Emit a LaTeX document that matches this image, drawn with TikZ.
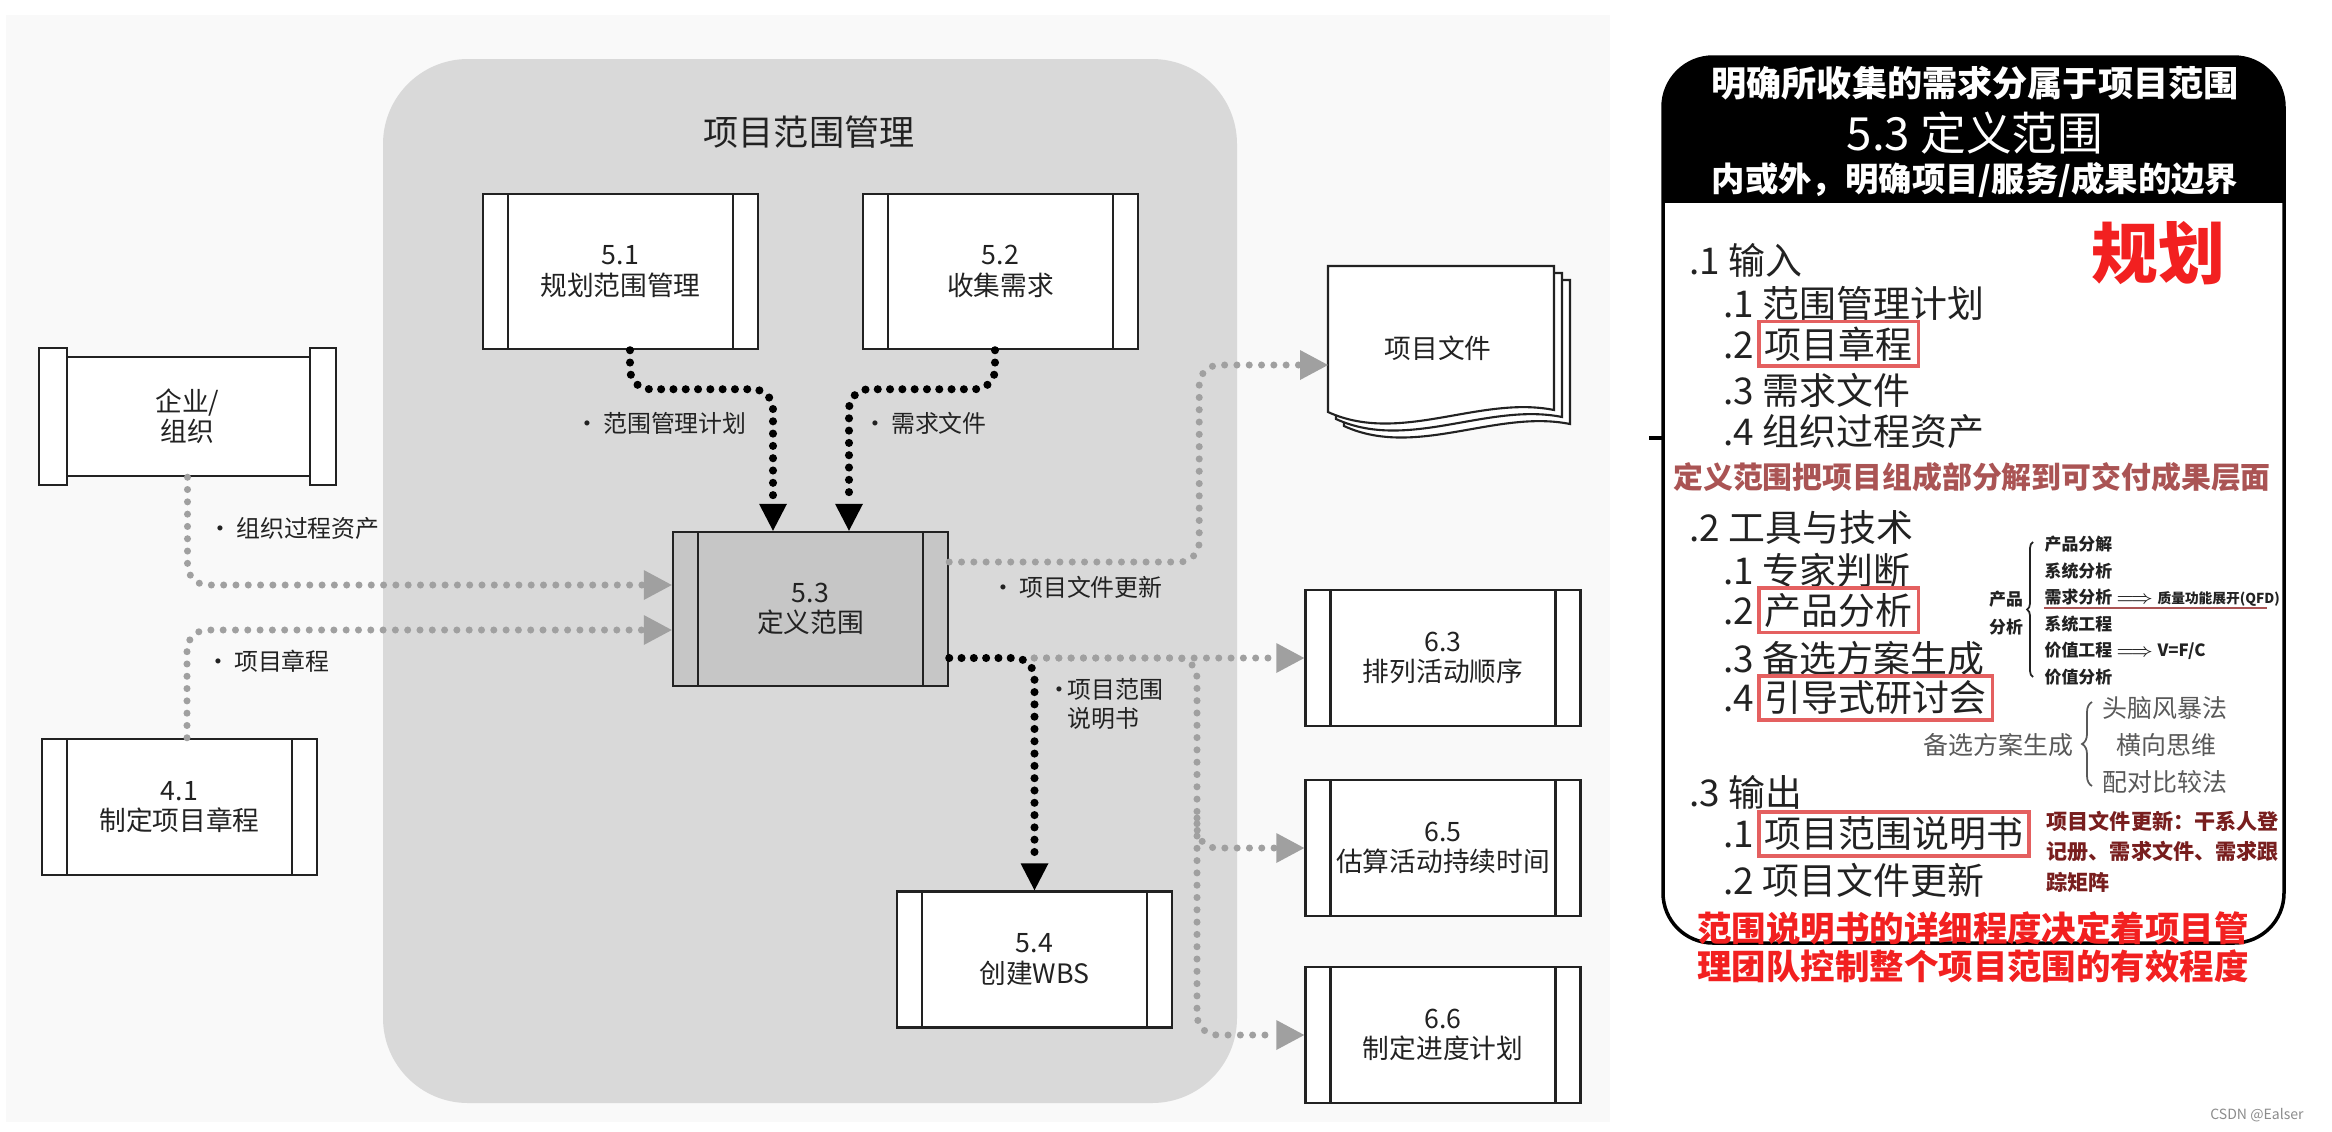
\documentclass[tikz,border=0pt]{standalone}
\usepackage{fontspec}
\setmainfont{Noto Sans CJK SC}
\usetikzlibrary{arrows.meta,positioning,decorations.pathreplacing}
\definecolor{panelbg}{RGB}{249,249,249}
\definecolor{scopegray}{RGB}{217,217,217}
\definecolor{procgray}{RGB}{198,198,198}
\definecolor{dotgray}{RGB}{160,160,160}
\definecolor{inkgray}{RGB}{34,34,34}
\definecolor{framered}{RGB}{228,96,96}
\definecolor{notered}{RGB}{170,84,84}
\definecolor{alertred}{RGB}{242,32,32}
\definecolor{darkred}{RGB}{120,30,30}
\newcommand\procfont{\fontsize{7.6}{8.6}\selectfont}
\newcommand\flowfont{\fontsize{6.8}{8}\selectfont}
\newcommand\itemfont{\fontsize{10.5}{12}\selectfont}
\begin{document}
\begin{tikzpicture}[
    proc/.style={draw=inkgray,line width=0.7pt,fill=white,minimum width=2.75cm,minimum height=#1,
      inner sep=1pt,align=center,text=inkgray,font=\procfont,
      path picture={
        \draw[inkgray,line width=0.7pt] ([xshift=0.25cm]path picture bounding box.north west) -- ([xshift=0.25cm]path picture bounding box.south west);
        \draw[inkgray,line width=0.7pt] ([xshift=-0.25cm]path picture bounding box.north east) -- ([xshift=-0.25cm]path picture bounding box.south east);}},
    proc/.default=1.36cm,
    flowlab/.style={inner sep=0pt,text=inkgray,font=\flowfont,align=left},
    gdot/.style={draw=dotgray,line width=2pt,line cap=round,dash pattern=on 0pt off 3.5pt,rounded corners=0.2cm,
      -{Triangle[length=0.28cm,width=0.3cm,line width=0pt,fill=dotgray]}},
    bdot/.style={draw=black,line width=2.3pt,line cap=round,dash pattern=on 0pt off 3.5pt,rounded corners=0.2cm,
      -{Triangle[length=0.27cm,width=0.28cm,line width=0pt,fill=black]}},
    listitem/.style={anchor=west,inner sep=0pt,font=\itemfont,text=inkgray},
    redframe/.style={draw=framered,line width=1pt,inner xsep=0.06cm,inner ysep=0.05cm,font=\itemfont,text=inkgray},
  ]
  \useasboundingbox (0,0) rectangle (23.32,-11.31);
  \fill[panelbg] (0.06,-0.15) rectangle (16.10,-11.22);
  \fill[scopegray,rounded corners=0.85cm] (3.83,-0.59) rectangle (12.37,-11.03);
  \node[font=\fontsize{10}{12}\selectfont,text=inkgray] (scopetitle) at (8.09,-1.32) {项目范围管理};

  \node[proc=1.55cm] (p51) at (6.205,-2.715) {5.1\\规划范围管理};
  \node[proc=1.55cm] (p52) at (10.005,-2.715) {5.2\\收集需求};
  \node[proc=1.54cm,fill=procgray] (p53) at (8.105,-6.09) {5.3\\定义范围};
  \node[proc] (p41) at (1.795,-8.07) {4.1\\制定项目章程};
  \node[proc] (p54) at (10.345,-9.595) {5.4\\创建WBS};
  \node[proc] (p63) at (14.43,-6.58) {6.3\\排列活动顺序};
  \node[proc] (p65) at (14.43,-8.48) {6.5\\估算活动持续时间};
  \node[proc] (p66) at (14.43,-10.35) {6.6\\制定进度计划};

  \node[draw=inkgray,line width=0.7pt,fill=white,minimum width=2.95cm,minimum height=1.19cm,
    align=center,font=\procfont,text=inkgray] (org) at (1.875,-4.165) {企业/\\组织};
  \draw[inkgray,line width=0.7pt,fill=white] ([yshift=0.08cm]org.north west) rectangle ([xshift=0.28cm,yshift=-0.08cm]org.south west);
  \draw[inkgray,line width=0.7pt,fill=white] ([xshift=-0.26cm,yshift=0.08cm]org.north east) rectangle ([yshift=-0.08cm]org.south east);

  % project documents
  \foreach \k in {2,1,0}
    \draw[inkgray,line width=0.6pt,fill=white,shift={(0.08*\k,-0.07*\k)}]
      (13.28,-2.66) -- (15.54,-2.66) -- (15.54,-4.10) .. controls (14.8,-3.95) and (14.0,-4.45) .. (13.28,-4.12) -- cycle;
  \node[font=\procfont,text=inkgray] (doc) at (14.38,-3.48) {项目文件};
  \coordinate (docin) at (13.28,-3.65);

  \draw[bdot] ([xshift=0.095cm]p51.south) -- ++(0,-0.39) -| ([xshift=-0.375cm]p53.north);
  \draw[bdot] ([xshift=-0.055cm]p52.south) -- ++(0,-0.39) -| ([xshift=0.385cm]p53.north);
  \draw[gdot] (org.south) |- ([yshift=0.24cm]p53.west);
  \draw[gdot] ([xshift=0.075cm]p41.north) |- ([yshift=-0.21cm]p53.west);
  \draw[gdot] ([yshift=0.47cm]p53.east) -- ++(2.5,0) |- (docin);
  \coordinate (fork) at ([xshift=0.85cm,yshift=-0.49cm]p53.east);
  \coordinate (drop) at (11.97,-6.58);
  \draw[gdot] (fork) -- (p63.west |- fork);
  \draw[gdot] (fork) -- (drop) |- (p66.west);
  \draw[gdot] ([yshift=-1.6cm]drop) |- (p65.west);
  \draw[bdot] ([yshift=-0.49cm]p53.east) -| (p54.north);

  \node[flowlab] (lplan) at (6.61,-4.23) {•\,范围管理计划};
  \node[flowlab] (lreq) at (9.25,-4.23) {•\,需求文件};
  \node[flowlab] (lopa) at (2.94,-5.28) {•\,组织过程资产};
  \node[flowlab] (lcharter) at (2.68,-6.61) {•\,项目章程};
  \node[flowlab] (lupd) at (10.77,-5.87) {•\,项目文件更新};
  \node[flowlab,anchor=west] (lstmt) at (10.47,-7.04) {\makebox[0.2cm][l]{•}项目范围\\\hspace*{0.2cm}说明书};

  % right card
  \begin{scope}
    \clip[rounded corners=0.5cm] (16.63,-0.57) rectangle (22.84,-9.43);
    \fill[black] (16.63,-0.57) rectangle (22.84,-2.03);
  \end{scope}
  \draw[line width=1pt,rounded corners=0.5cm] (16.63,-0.57) rectangle (22.84,-9.43);
  \draw[line width=1pt] (16.49,-4.38) -- (16.63,-4.38);
  \node[text=white,font=\fontsize{10}{12}\selectfont\bfseries] (hd1) at (19.75,-0.83) {明确所收集的需求分属于项目范围};
  \node[text=white,font=\fontsize{13}{15}\selectfont] (hd2) at (19.75,-1.33) {5.3 定义范围};
  \node[text=white,font=\fontsize{9.5}{12}\selectfont\bfseries] (hd3) at (19.75,-1.80) {内或外，明确项目/服务/成果的边界};
  \node[text=alertred,font=\fontsize{19}{22}\selectfont\bfseries] (plan) at (21.58,-2.53) {规划};

  \node[listitem] (in) at (16.89,-2.60) {.1 输入};
  \node[listitem] (in1) at (17.23,-3.03) {.1 范围管理计划};
  \node[listitem] (in2) at (17.23,-3.45) {.2};
  \node[redframe,base right=0.02cm of in2] (in2t) {项目章程};
  \node[listitem] (in3) at (17.23,-3.90) {.3 需求文件};
  \node[listitem] (in4) at (17.23,-4.32) {.4 组织过程资产};
  \node[font=\fontsize{8.5}{10}\selectfont\bfseries,text=notered] (decomp) at (19.72,-4.77) {定义范围把项目组成部分解到可交付成果层面};

  \node[listitem] (tt) at (16.89,-5.27) {.2 工具与技术};
  \node[listitem] (tt1) at (17.23,-5.70) {.1 专家判断};
  \node[listitem] (tt2) at (17.23,-6.11) {.2};
  \node[redframe,base right=0.02cm of tt2] (tt2t) {产品分析};
  \node[listitem] (tt3) at (17.23,-6.58) {.3 备选方案生成};
  \node[listitem] (tt4) at (17.23,-6.99) {.4};
  \node[redframe,base right=0.02cm of tt4] (tt4t) {引导式研讨会};

  \node[font=\fontsize{4.8}{8}\selectfont\bfseries,text=inkgray,align=center] (pa) at (20.06,-6.13) {产品\\分析};
  \draw[decorate,decoration={brace,amplitude=0.06cm},inkgray,line width=0.5pt] (20.33,-6.77) -- (20.33,-5.42);
  \node[anchor=west,inner sep=0pt,align=left,font=\fontsize{4.8}{7.55}\selectfont\bfseries,text=inkgray] (palist) at (20.44,-6.105)
    {产品分解\\系统分析\\需求分析 $\Longrightarrow$ {\fontsize{3.9}{5}\selectfont 质量功能展开(QFD)}\\系统工程\\价值工程 $\Longrightarrow$ V=F/C\\价值分析};
  \draw[notered,line width=0.6pt] (20.44,-6.08) -- (22.67,-6.08);

  \node[anchor=east,inner sep=0pt,font=\fontsize{7.1}{8}\selectfont,text=black!65] (alt) at (20.74,-7.45) {备选方案生成};
  \draw[decorate,decoration={brace,amplitude=0.1cm},black!65,line width=0.5pt] (20.92,-7.86) -- (20.92,-7.02);
  \node[anchor=west,inner sep=0pt,font=\fontsize{7.1}{8}\selectfont,text=black!65] (alt1) at (21.02,-7.08) {头脑风暴法};
  \node[anchor=west,inner sep=0pt,font=\fontsize{7.1}{8}\selectfont,text=black!65] (alt2) at (21.16,-7.45) {横向思维};
  \node[anchor=west,inner sep=0pt,font=\fontsize{7.1}{8}\selectfont,text=black!65] (alt3) at (21.02,-7.82) {配对比较法};

  \node[listitem] (out) at (16.89,-7.92) {.3 输出};
  \node[listitem] (out1) at (17.23,-8.35) {.1};
  \node[redframe,base right=0.02cm of out1] (out1t) {项目范围说明书};
  \node[listitem] (out2) at (17.23,-8.80) {.2 项目文件更新};
  \node[anchor=north west,inner sep=0pt,align=left,font=\fontsize{6}{8.8}\selectfont\bfseries,text=darkred] (updnote) at (20.46,-8.10)
    {项目文件更新：干系人登\\记册、需求文件、需求跟\\踪矩阵};
  \node[align=center,font=\fontsize{9.8}{10.8}\selectfont\bfseries,text=alertred] (scopenote) at (19.73,-9.47)
    {范围说明书的详细程度决定着项目管\\理团队控制整个项目范围的有效程度};
  \node[anchor=east,font=\fontsize{4}{5}\selectfont,text=black!45] (mark) at (23.16,-11.15) {CSDN @Ealser};
\end{tikzpicture}
\end{document}
